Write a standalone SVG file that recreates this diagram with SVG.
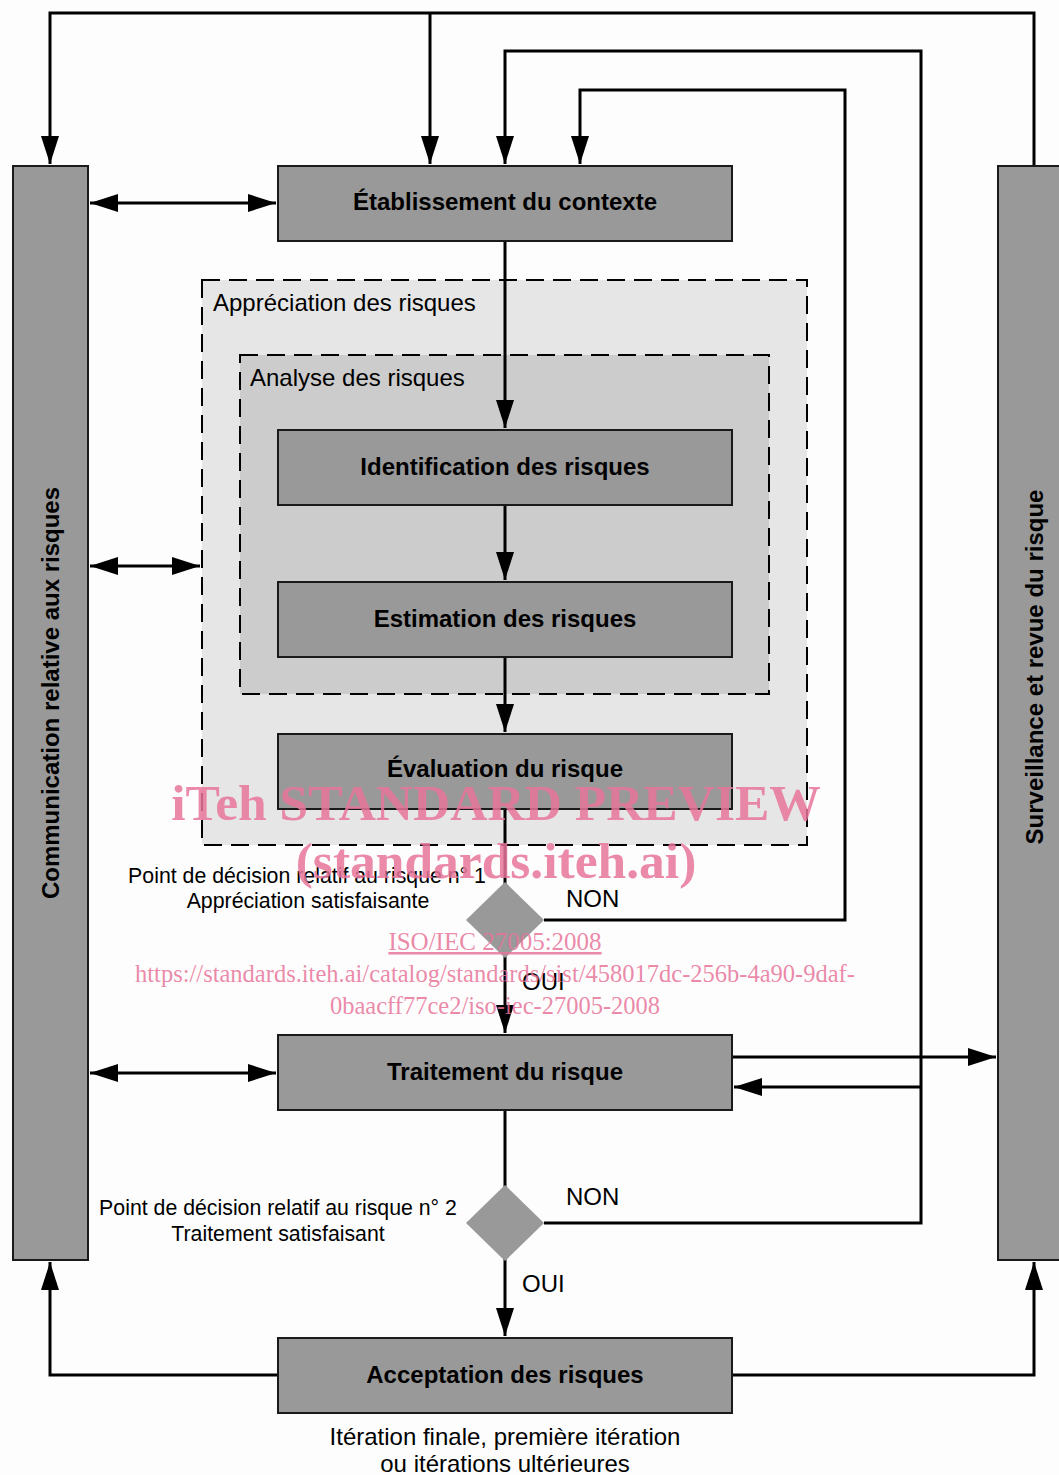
<svg xmlns="http://www.w3.org/2000/svg" width="1059" height="1475" viewBox="0 0 1059 1475">
<style>
.bg{fill:#fdfdfd}
.box{fill:#999999;stroke:#1a1a1a;stroke-width:2}
.bar{fill:#999999;stroke:#1a1a1a;stroke-width:2}
.dash1{fill:#e6e6e6;stroke:#000;stroke-width:2;stroke-dasharray:18,9}
.dash2{fill:#cccccc;stroke:#000;stroke-width:2;stroke-dasharray:18,9}
.dia{fill:#999999}
.ln{fill:none;stroke:#000;stroke-width:3}
.lbl{font-family:"Liberation Sans",Arial,sans-serif;font-weight:bold;font-size:24px;fill:#000;text-anchor:middle}
.txt{font-family:"Liberation Sans",Arial,sans-serif;font-size:24px;fill:#000}
.dec{font-family:"Liberation Sans",Arial,sans-serif;font-size:21.3px;fill:#000;text-anchor:middle}
.mid{text-anchor:middle}
.wm{font-family:"Liberation Serif","Times New Roman",serif;fill:#e8749a;fill-opacity:0.85;text-anchor:middle}
</style>
<defs>
<marker id="ah" markerUnits="userSpaceOnUse" markerWidth="30" markerHeight="20" refX="28" refY="9" orient="auto-start-reverse">
<path d="M0,0 L28,9 L0,18 Z" fill="#000"/>
</marker>
</defs>
<rect class="bg" x="0" y="0" width="1059" height="1475"/>

<g id="appreciation">
<rect class="dash1" x="202" y="280" width="605" height="565"/>
<text class="txt" x="213" y="311">Appréciation des risques</text>
</g>
<g id="analyse">
<rect class="dash2" x="240" y="355" width="529" height="339"/>
<text class="txt" x="250" y="386">Analyse des risques</text>
</g>

<g id="connectors">
<polyline class="ln" points="1034,166 1034,13 50,13 50,164" marker-end="url(#ah)"/>
<polyline class="ln" points="430,13 430,164" marker-end="url(#ah)"/>
<polyline class="ln" points="544,1223 921,1223 921,51 505,51 505,164" marker-end="url(#ah)"/>
<polyline class="ln" points="921,1087 734,1087" marker-end="url(#ah)"/>
<polyline class="ln" points="544,920 845,920 845,90 580,90 580,164" marker-end="url(#ah)"/>
<line class="ln" x1="90" y1="203" x2="276" y2="203" marker-start="url(#ah)" marker-end="url(#ah)"/>
<line class="ln" x1="90" y1="566" x2="200" y2="566" marker-start="url(#ah)" marker-end="url(#ah)"/>
<line class="ln" x1="90" y1="1073" x2="276" y2="1073" marker-start="url(#ah)" marker-end="url(#ah)"/>
<line class="ln" x1="505" y1="241" x2="505" y2="428" marker-end="url(#ah)"/>
<line class="ln" x1="505" y1="505" x2="505" y2="580" marker-end="url(#ah)"/>
<line class="ln" x1="505" y1="657" x2="505" y2="732" marker-end="url(#ah)"/>
<line class="ln" x1="505" y1="809" x2="505" y2="884"/>
<line class="ln" x1="505" y1="956" x2="505" y2="1033" marker-end="url(#ah)"/>
<line class="ln" x1="505" y1="1110" x2="505" y2="1187"/>
<line class="ln" x1="505" y1="1259" x2="505" y2="1336" marker-end="url(#ah)"/>
<line class="ln" x1="732" y1="1057" x2="996" y2="1057" marker-end="url(#ah)"/>
<polyline class="ln" points="278,1375 50,1375 50,1262" marker-end="url(#ah)"/>
<polyline class="ln" points="732,1375 1034,1375 1034,1262" marker-end="url(#ah)"/>
</g>

<g id="communication">
<rect class="bar" x="13" y="166" width="75" height="1094"/>
<text class="lbl" transform="translate(59,693) rotate(-90)" font-size="23">Communication relative aux risques</text>
</g>
<g id="surveillance">
<rect class="bar" x="998" y="166" width="70" height="1094"/>
<text class="lbl" transform="translate(1043,667) rotate(-90)" font-size="23">Surveillance et revue du risque</text>
</g>

<g id="etablissement">
<rect class="box" x="278" y="166" width="454" height="75"/>
<text class="lbl" x="505" y="210">Établissement du contexte</text>
</g>
<g id="identification">
<rect class="box" x="278" y="430" width="454" height="75"/>
<text class="lbl" x="505" y="475">Identification des risques</text>
</g>
<g id="estimation">
<rect class="box" x="278" y="582" width="454" height="75"/>
<text class="lbl" x="505" y="627">Estimation des risques</text>
</g>
<g id="evaluation">
<rect class="box" x="278" y="734" width="454" height="75"/>
<text class="lbl" x="505" y="777">Évaluation du risque</text>
</g>

<g id="decision1">
<polygon class="dia" points="505,882 544,920 505,958 466,920"/>
<text class="dec" x="307" y="883">Point de décision relatif au risque n° 1</text>
<text class="dec" x="308" y="908">Appréciation satisfaisante</text>
<text class="txt" x="566" y="907" font-size="23.2">NON</text>
<text class="txt" x="522" y="990" font-size="23.2">OUI</text>
</g>

<g id="traitement">
<rect class="box" x="278" y="1035" width="454" height="75"/>
<text class="lbl" x="505" y="1080">Traitement du risque</text>
</g>

<g id="decision2">
<polygon class="dia" points="505,1185 544,1223 505,1261 466,1223"/>
<text class="dec" x="278" y="1215">Point de décision relatif au risque n° 2</text>
<text class="dec" x="278" y="1241">Traitement satisfaisant</text>
<text class="txt" x="566" y="1205" font-size="23.2">NON</text>
<text class="txt" x="522" y="1292" font-size="23.2">OUI</text>
</g>

<g id="acceptation">
<rect class="box" x="278" y="1338" width="454" height="75"/>
<text class="lbl" x="505" y="1383">Acceptation des risques</text>
<text class="txt mid" x="505" y="1445">Itération finale, première itération</text>
<text class="txt mid" x="505" y="1472">ou itérations ultérieures</text>
</g>

<g id="watermark">
<text class="wm" x="496" y="820" font-size="51.5" font-weight="bold">iTeh STANDARD PREVIEW</text>
<text class="wm" x="496" y="878" font-size="51.5" font-weight="bold">(standards.iteh.ai)</text>
<text class="wm" x="495" y="950" font-size="25" text-decoration="underline">ISO/IEC 27005:2008</text>
<text class="wm" x="495" y="982" font-size="24.5">https://standards.iteh.ai/catalog/standards/sist/458017dc-256b-4a90-9daf-</text>
<text class="wm" x="495" y="1014" font-size="24.5">0baacff77ce2/iso-iec-27005-2008</text>
</g>
</svg>
